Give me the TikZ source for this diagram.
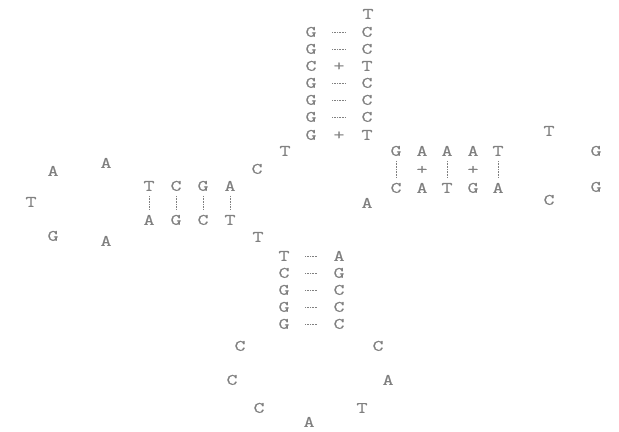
\documentclass[tikz,border=0pt]{standalone}
\usepackage{fontspec}
\newfontfamily\dnafont[FakeStretch=1.35,FakeBold=0.6]{Latin Modern Mono}
\begin{document}
\begin{tikzpicture}[x=1bp,y=-1bp,
  base/.style={font=\dnafont\fontsize{16}{16}\selectfont, text=black!50, inner sep=0pt, text height=9.6pt, text depth=0pt},
  hbond/.style={draw=black!50, densely dotted, line width=0.6pt, shorten <=15.5bp, shorten >=15.5bp},
  vbond/.style={draw=black!50, densely dotted, line width=0.6pt, shorten <=5bp, shorten >=5bp},
  wob/.style={base}]
\useasboundingbox (0,0) rectangle (619,431);
% top arm
\node[base] (tt) at (368,14) {T};
\foreach \i/\y/\l/\r/\k in {1/32/G/C/h,2/49/G/C/h,3/66/C/T/p,4/83/G/C/h,5/100/G/C/h,6/117/G/C/h,7/135/G/T/p}{
  \node[base] (tl\i) at (311,\y) {\l};
  \node[base] (tr\i) at (367,\y) {\r};
  \if\k h\draw[hbond] (tl\i) -- (tr\i);\else\node[wob] (tp\i) at (339,\y) {+};\fi
}
% right stem
\foreach \i/\x/\u/\d/\k in {1/396/G/C/v,2/422/A/A/p,3/447/A/T/v,4/473/A/G/p,5/498/T/A/v}{
  \node[base] (ru\i) at (\x,151) {\u};
  \node[base] (rd\i) at (\x,188) {\d};
  \if\k v\draw[vbond] (ru\i) -- (rd\i);\else\node[wob] (rp\i) at (\x,169.5) {+};\fi
}
% right loop
\node[base] (rl1) at (549,131) {T};
\node[base] (rl2) at (596,151) {G};
\node[base] (rl3) at (596,187) {G};
\node[base] (rl4) at (549,200) {C};
% left stem
\foreach \i/\x/\u/\d in {1/149/T/A,2/176/C/G,3/203/G/C,4/230/A/T}{
  \node[base] (lu\i) at (\x,186) {\u};
  \node[base] (ld\i) at (\x,220) {\d};
  \draw[vbond] (lu\i) -- (ld\i);
}
% left loop
\node[base] (ll1) at (106,163) {A};
\node[base] (ll2) at (53,171) {A};
\node[base] (ll3) at (31,202) {T};
\node[base] (ll4) at (53,236) {G};
\node[base] (ll5) at (106,241) {A};
% junction
\node[base] (j1) at (285,151) {T};
\node[base] (j2) at (257,169) {C};
\node[base] (j3) at (258,237) {T};
\node[base] (j4) at (367,203) {A};
% bottom stem
\foreach \i/\y/\l/\r in {1/256/T/A,2/273/C/G,3/290/G/C,4/307/G/C,5/324/G/C}{
  \node[base] (bl\i) at (284,\y) {\l};
  \node[base] (br\i) at (339,\y) {\r};
  \draw[hbond] (bl\i) -- (br\i);
}
% bottom loop
\node[base] (bo1) at (240,346) {C};
\node[base] (bo2) at (232,380) {C};
\node[base] (bo3) at (259,408) {C};
\node[base] (bo4) at (309,422) {A};
\node[base] (bo5) at (362,408) {T};
\node[base] (bo6) at (388,380) {A};
\node[base] (bo7) at (378,346) {C};
\end{tikzpicture}
\end{document}
